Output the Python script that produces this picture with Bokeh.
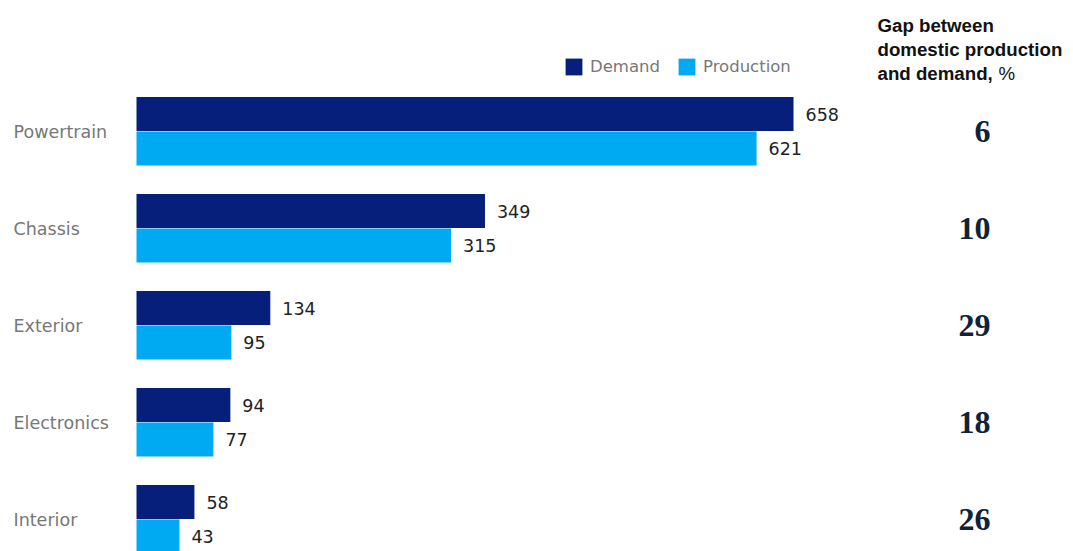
from bokeh.plotting import figure
from bokeh.models import ColumnDataSource, Range1d, Legend, LegendItem
from bokeh.core.properties import value
from bokeh.embed import file_html
from bokeh.resources import INLINE

categories = ["Powertrain", "Chassis", "Exterior", "Electronics", "Interior"]
demand = [658, 349, 134, 94, 58]
production = [621, 315, 95, 77, 43]
gap_pct = [6, 10, 29, 18, 26]

W, H = 1073, 551
PX = 0.9985          # pixels per unit on the x axis
X0 = 136             # pixel position of zero
ROW = 97.0           # pixels per category row
Y0 = 131.0           # pixel position of first row centre

def xd(px):
    return (px - X0) / PX

def yd(py):
    return (py - Y0) / ROW

p = figure(width=W, height=H, x_range=Range1d(xd(0), xd(W)), y_range=Range1d(yd(H), yd(0)),
           output_backend="svg", toolbar_location=None, min_border=0)
p.axis.visible = False
p.xgrid.visible = False
p.ygrid.visible = False
p.outline_line_color = None

idx = list(range(len(categories)))
src = ColumnDataSource(dict(
    cat=categories,
    yd=[i - 0.18 for i in idx],
    yp=[i + 0.175 for i in idx],
    demand=demand,
    production=production,
    dlab=[str(v) for v in demand],
    plab=[str(v) for v in production],
    dx=[v + 12 / PX for v in demand],
    px=[v + 12 / PX for v in production],
    yc=idx,
    catx=[xd(13)] * len(idx),
    gapx=[xd(990)] * len(idx),
    gap=[str(g) for g in gap_pct],
))

NAVY = "#061f7a"
SKY = "#00aaf3"

rd = p.hbar(y="yd", left=0, right="demand", height=0.35, source=src, fill_color=NAVY, line_color=None)
rp = p.hbar(y="yp", left=0, right="production", height=0.35, source=src, fill_color=SKY, line_color=None)

font = value("DejaVu Sans")
p.text(x="dx", y="yd", text="dlab", source=src, text_font=font, text_font_size="17.5px",
       text_color="#222222", text_baseline="middle", text_align="left")
p.text(x="px", y="yp", text="plab", source=src, text_font=font, text_font_size="17.5px",
       text_color="#222222", text_baseline="middle", text_align="left")
p.text(x="catx", y="yc", text="cat", source=src, text_font=font, text_font_size="17.5px",
       text_color="#777777", text_baseline="middle", text_align="left")
p.text(x="gapx", y="yc", text="gap", source=src, text_font=value("Liberation Serif"), text_font_size="32px",
       text_font_style="bold", text_color="#0e2238", text_baseline="middle", text_align="right")

# header
hfont = value("Liberation Sans")
hx = xd(877)
header_lines = ["Gap between", "domestic production", "and demand,"]
header_y = [yd(25), yd(49), yd(73)]
p.text(x=[hx] * 3, y=header_y, text=header_lines, text_font=hfont, text_font_size="18.7px",
       text_font_style="bold", text_color="#111111", text_baseline="alphabetic", text_align="left")
p.text(x=[xd(998)], y=[yd(73)], text=["%"], text_font=hfont, text_font_size="18.7px",
       text_color="#111111", text_baseline="alphabetic", text_align="left")

legend = Legend(items=[LegendItem(label="Demand", renderers=[rd]),
                       LegendItem(label="Production", renderers=[rp])],
                orientation="horizontal", location=(563, H - 77),
                glyph_width=21, glyph_height=21, label_height=21, label_standoff=6, spacing=16,
                padding=0, margin=0, border_line_color=None, background_fill_alpha=0,
                label_text_font="DejaVu Sans", label_text_font_size="16.5px",
                label_text_color="#777777")
p.add_layout(legend)

open("out.html", "w").write(file_html(p, INLINE))
